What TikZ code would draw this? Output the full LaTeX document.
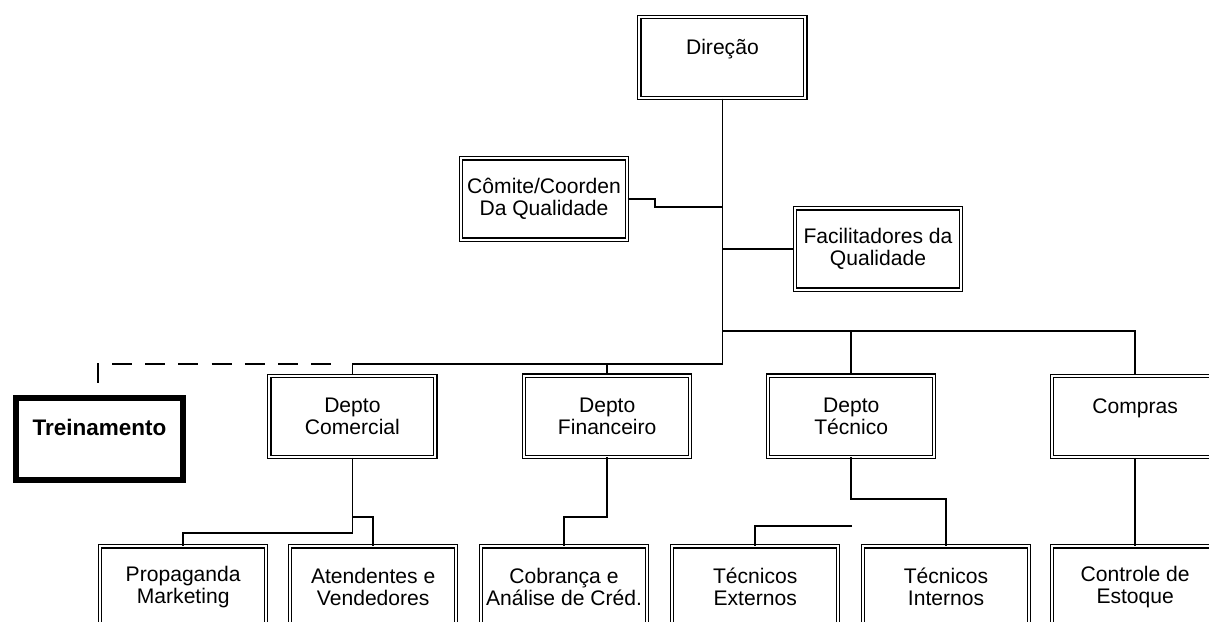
\documentclass[tikz,border=0pt]{standalone}
\usepackage{fontspec}
\setmainfont{Liberation Sans}

\tikzset{
  caixa/.style={draw, double, double distance=1.4pt, line width=0.9pt,
    minimum width=4.15cm, minimum height=2.03cm, inner sep=0pt,
    align=center, font=\fontsize{15}{15.5}\selectfont},
  caixaforte/.style={draw, line width=4.3pt, minimum width=4.18cm,
    minimum height=2.05cm, inner sep=0pt, align=center,
    font=\bfseries\fontsize{16}{16}\selectfont},
  linha/.style={line width=1.2pt},
  tracejado/.style={line width=1.6pt, dash pattern=on 0.5cm off 0.33cm}
}

\begin{document}
\begin{tikzpicture}
  \useasboundingbox (0,0) rectangle (30.225,15.525);
  \clip (0,0) rectangle (30.225,15.525);
  % caixas
  \node[caixa] (dir) at (18.06,14.09) {Direção\\~};
  \node[caixa] (com) at (13.6,10.55) {Cômite/Coorden\\Da Qualidade};
  \node[caixa] (fac) at (21.95,9.3) {Facilitadores da\\Qualidade};
  \node[caixaforte] (trei) at (2.49,4.55) {Treinamento\\~};
  \node[caixa] (comm) at (8.81,5.11) {Depto\\Comercial};
  \node[caixa] (fin) at (15.18,5.12) {Depto\\Financeiro};
  \node[caixa] (tec) at (21.28,5.12) {Depto\\Técnico};
  \node[caixa] (comp) at (28.38,5.11) {Compras\\~};
  \node[caixa] (prop) at (4.58,0.85) {Propaganda\\Marketing};
  \node[caixa] (aten) at (9.33,0.85) {Atendentes e\\Vendedores};
  \node[caixa] (cob) at (14.1,0.85) {Cobrança e\\Análise de Créd.};
  \node[caixa] (ext) at (18.88,0.85) {Técnicos\\Externos};
  \node[caixa] (int) at (23.65,0.85) {Técnicos\\Internos};
  \node[caixa] (est) at (28.38,0.85) {Controle de\\Estoque};
  % ligações
  \coordinate (nivel1) at (18.06,7.25);
  \coordinate (nivel2) at (18.06,6.43);
  \coordinate (dente) at (16.38,10.35);
  \coordinate (tr) at (2.45,5.95);
  \coordinate (solto) at (21.3,2.38);
  \draw[linha] (dir) -- (nivel2) -| (comm);
  \draw[linha] (nivel1) -| (comp);
  \draw[linha] (nivel1 -| tec) -- (tec);
  \draw[linha] (nivel2 -| fin) -- (fin);
  \draw[linha] (dir |- fac) -- (fac);
  \draw[linha] (com.east) -- (com.east -| dente) -- (dente) -- (dente -| dir);
  \draw[tracejado] (tr) -- (tr |- nivel2) -- (8.3,6.43);
  \draw[linha] (comm) -- (8.81,2.2) -| (prop);
  \draw[linha] (8.81,2.6) -| (aten);
  \draw[linha] (fin) -- (15.18,2.6) -| (cob);
  \draw[linha] (tec) -- (21.28,3.05) -| (int);
  \draw[linha] (solto) -| (ext);
  \draw[linha] (comp) -- (est);
\end{tikzpicture}
\end{document}
